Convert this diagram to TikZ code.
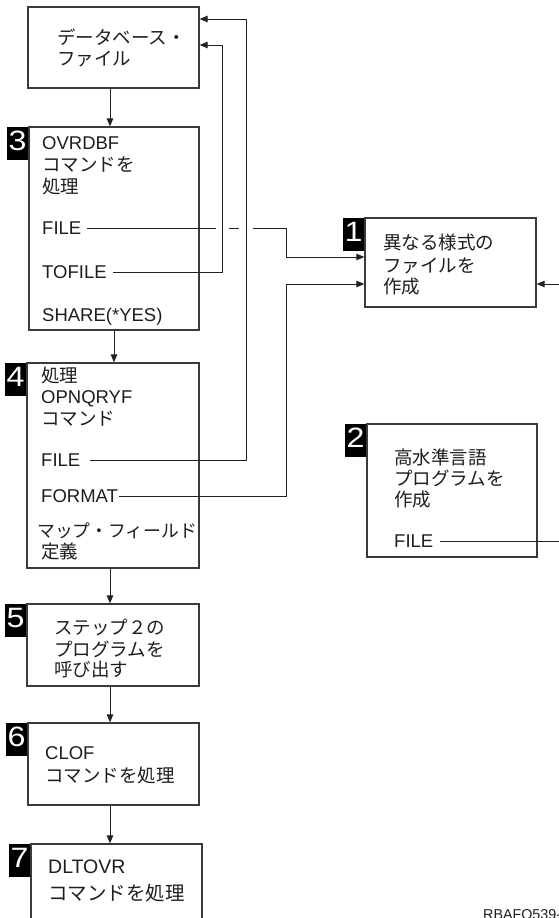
\documentclass[tikz,border=0pt]{standalone}
\usepackage{fontspec}
\setmainfont{Liberation Sans}
\newfontfamily\jp{Noto Sans CJK JP}
\usetikzlibrary{arrows.meta}
\definecolor{ink}{HTML}{1E1E1E}
\definecolor{lin}{HTML}{3A3A3A}
\definecolor{cn}{HTML}{222222}
\begin{document}
\begin{tikzpicture}[x=1pt,y=-1pt,
  box/.style={draw=lin, line width=1.3pt, inner sep=0pt},
  txt/.style={anchor=base west, inner sep=0pt, text=ink, font=\fontsize{18.5}{22}\selectfont},
  jt/.style={anchor=base west, inner sep=0pt, text=ink, font=\fontsize{18.5}{22}\selectfont\jp},
  badge/.style={fill=black, text=white, minimum width=21pt, minimum height=33pt, inner sep=0pt,
    text height=20pt, text depth=6pt, anchor=north east, font=\fontsize{28}{28}\selectfont},
  conn/.style={draw=cn, line width=1pt},
  arr/.style={conn, -{Triangle[length=8pt,width=6.5pt]}}]
\fill[white] (0,0) rectangle (559,918);
\useasboundingbox (0,0) rectangle (559,918);
\clip (0,0) rectangle (559,918);

% boxes
\node[box, minimum width=171pt, minimum height=81pt]  (db) at (113.5,47.5) {};
\node[box, minimum width=170pt, minimum height=203pt] (b3) at (114,228.5) {};
\node[box, minimum width=172pt, minimum height=205pt] (b4) at (113,465.5) {};
\node[box, minimum width=172pt, minimum height=82pt]  (b5) at (113,645) {};
\node[box, minimum width=171pt, minimum height=82pt]  (b6) at (113.5,764) {};
\node[box, minimum width=171pt, minimum height=124pt] (b7) at (116.5,906) {};
\node[box, minimum width=171pt, minimum height=89pt]  (b1) at (450.5,262.5) {};
\node[box, minimum width=170pt, minimum height=133pt] (b2) at (452,490.5) {};

% badges
\node[badge] (n1) at (b1.north west) {\scalebox{1.15}[1]{1}};
\node[badge] (n2) at (b2.north west) {\scalebox{1.15}[1]{2}};
\node[badge] (n3) at (b3.north west) {\scalebox{1.15}[1]{3}};
\node[badge] (n4) at (b4.north west) {\scalebox{1.15}[1]{4}};
\node[badge] (n5) at (b5.north west) {\scalebox{1.15}[1]{5}};
\node[badge] (n6) at (b6.north west) {\scalebox{1.15}[1]{6}};
\node[badge] (n7) at (b7.north west) {\scalebox{1.15}[1]{7}};

% texts
\node[jt] (dbt1) at (57,44) {データベース・};
\node[jt] (dbt2) at (57,65) {ファイル};

\node[txt] (t3a) at (42,149.5) {OVRDBF};
\node[jt]  (t3b) at (42,171) {コマンドを};
\node[jt]  (t3c) at (42,193) {処理};
\node[txt] (f3)  at (42,234.5) {FILE};
\node[txt] (tf3) at (42,278.5) {TOFILE};
\node[txt] (s3)  at (42,321.5) {SHARE(*YES)};

\node[jt]  (t4a) at (41,382) {処理};
\node[txt] (t4b) at (41,403.5) {OPNQRYF};
\node[jt]  (t4c) at (41,425) {コマンド};
\node[txt] (f4)  at (41,466.5) {FILE};
\node[txt] (fm4) at (41,502.5) {FORMAT};
\node[jt, font=\fontsize{17.8}{22}\selectfont\jp]  (t4d) at (37,537) {マップ・フィールド};
\node[jt]  (t4e) at (41,558) {定義};

\node[jt] (t5a) at (54,634) {ステップ２の};
\node[jt] (t5b) at (54,656) {プログラムを};
\node[jt] (t5c) at (54,676) {呼び出す};

\node[txt] (t6a) at (45,759.5) {CLOF};
\node[jt]  (t6b) at (45,782) {コマンドを処理};

\node[txt, font=\fontsize{19.5}{22}\selectfont] (t7a) at (48,873) {DLTOVR};
\node[jt, font=\fontsize{19.5}{22}\selectfont\jp] (t7b) at (48,900.5) {コマンドを処理};

\node[jt] (t1a) at (383,249) {異なる様式の};
\node[jt] (t1b) at (383,272) {ファイルを};
\node[jt] (t1c) at (383,293) {作成};

\node[jt]  (t2a) at (394,464) {高水準言語};
\node[jt]  (t2b) at (394,485) {プログラムを};
\node[jt]  (t2c) at (394,506) {作成};
\node[txt] (f2)  at (394,547.5) {FILE};

\node[anchor=base west, inner sep=0pt, text=ink, font=\fontsize{14.3}{16}\selectfont] (id) at (483,919) {RBAFO539-0};

% helper coordinates
\coordinate (vx1) at (222,0);
\coordinate (vx2) at (246,0);
\coordinate (j1) at (286,257);
\coordinate (j2) at (246,19);
\coordinate (j3) at (286,284);
\coordinate (j4) at (575,0);
\coordinate (j5) at (575,284);
\coordinate (tfup) at (222,45);

% vertical flow
\draw[arr] ([xshift=-3.5pt]db.south) -- ([xshift=-4pt]b3.north);
\draw[arr] (b3.south) -- ([xshift=1pt]b4.north);
\draw[arr] ([xshift=-3pt]b4.south) -- ([xshift=-3pt]b5.north);
\draw[arr] ([xshift=-3pt]b5.south) -- ([xshift=-3.5pt]b6.north);
\draw[arr] ([xshift=-3.5pt]b6.south) -- ([xshift=-6.5pt]b7.north);

% TOFILE -> database file
\draw[arr] ([xshift=6pt]tf3.east) -| (tfup) -- (tfup -| db.east);
% FILE (4) -> database file
\draw[arr] ([xshift=10pt]f4.east) -| (j2) -- (j2 -| db.east);
% FILE (3) -> box 1, with gaps at crossings
\draw[conn] ([xshift=6pt]f3.east) -- ([xshift=-6pt]f3.east -| vx1);
\draw[conn] ([xshift=7pt]f3.east -| vx1) -- ([xshift=-7pt]f3.east -| vx2);
\draw[arr] ([xshift=7pt]f3.east -| vx2) -| (j1) -- (j1 -| b1.west);
% FORMAT -> box 1
\draw[arr] ([xshift=1pt]fm4.east) -| (j3) -- (j3 -| b1.west);
% FILE (2) -> box 1 (route leaves the picture)
\draw[arr] ([xshift=7pt]f2.east) -- (f2.east -| j4) -- (j5) -- (j5 -| b1.east);
\end{tikzpicture}
\end{document}
